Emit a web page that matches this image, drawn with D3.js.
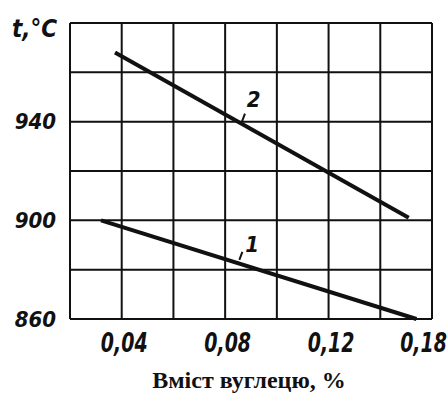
<!DOCTYPE html>
<html>
<head>
<meta charset="utf-8">
<script src="https://cdn.jsdelivr.net/npm/d3@7"></script>
<style>
  body { margin: 0; background: white; }
  svg { display: block; }
</style>
</head>
<body>
<div id="container"></div>
<script>
// grid and tick values
let carbonGrid = [0.02, 0.04, 0.06, 0.08, 0.10, 0.12, 0.14, 0.16];
let tempGrid = [860, 880, 900, 920, 940, 960, 980];
let carbonTicks = [0.04, 0.08, 0.12, 0.16];
let carbonTickLabels = ["0,04", "0,08", "0,12", "0,18"];
let tempTicks = [860, 900, 940];

// curves
let curve1Carbon = [0.032, 0.154];
let curve1Temp = [900, 860];
let curve2Carbon = [0.0374, 0.151];
let curve2Temp = [968, 901];

let w = 448;
let h = 398;

let ink = "#111";
let italicFont = "'DejaVu Sans Condensed', 'DejaVu Sans', sans-serif";

let viz = d3.select("#container")
  .append("svg")
    .attr("width", w)
    .attr("height", h)
    .style("background-color", "white")
;

let xScale = d3.scaleLinear().domain([0.02, 0.16]).range([70, 432]);
let yScale = d3.scaleLinear().domain([860, 980]).range([319, 23]);

// grid
viz.append("g").selectAll("line").data(carbonGrid).enter().append("line")
    .attr("x1", d => xScale(d))
    .attr("x2", d => xScale(d))
    .attr("y1", yScale(980))
    .attr("y2", yScale(860))
    .attr("stroke", ink)
    .attr("stroke-width", 2)
;
viz.append("g").selectAll("line").data(tempGrid).enter().append("line")
    .attr("x1", xScale(0.02))
    .attr("x2", xScale(0.16))
    .attr("y1", d => yScale(d))
    .attr("y2", d => yScale(d))
    .attr("stroke", ink)
    .attr("stroke-width", 2)
;

// axes
let xAxis = d3.axisBottom(xScale)
    .tickValues(carbonTicks)
    .tickSize(0)
    .tickPadding(0)
    .tickFormat((d, i) => carbonTickLabels[i]);

let gx = viz.append("g")
    .attr("transform", "translate(0,352)")
    .call(xAxis);
gx.select(".domain").remove();
let squeeze = 0.78;
gx.selectAll("text")
    .attr("font-family", italicFont)
    .attr("font-style", "italic")
    .attr("font-weight", "bold")
    .attr("font-size", 27)
    .attr("fill", ink)
    .attr("dy", 0)
    .attr("y", 0)
    .attr("x", (d, i) => (i === carbonTicks.length - 1 ? -9 : 2) / squeeze)
    .attr("transform", "scale(" + squeeze + ",1)");

let yAxis = d3.axisLeft(yScale)
    .tickValues(tempTicks)
    .tickSize(0)
    .tickPadding(14);

let gy = viz.append("g")
    .attr("transform", "translate(70,0)")
    .call(yAxis);
gy.select(".domain").remove();
gy.selectAll("text")
    .attr("font-family", italicFont)
    .attr("font-style", "italic")
    .attr("font-weight", "bold")
    .attr("font-size", 22)
    .attr("fill", ink);

// unit label
viz.append("text")
    .text("t,°C")
    .attr("x", 12)
    .attr("y", 37)
    .attr("font-family", italicFont)
    .attr("font-style", "italic")
    .attr("font-weight", "bold")
    .attr("font-size", 24)
    .attr("fill", ink)
;

// axis title
viz.append("text")
    .text("Вміст вуглецю, %")
    .attr("x", 249)
    .attr("y", 388)
    .attr("text-anchor", "middle")
    .attr("font-family", "'Liberation Serif', 'Times New Roman', serif")
    .attr("font-weight", "bold")
    .attr("font-size", 24)
    .attr("fill", ink)
;

// curves
let line = d3.line().x(d => xScale(d[0])).y(d => yScale(d[1]));

let curves = [
  { name: "1", pts: d3.zip(curve1Carbon, curve1Temp), lab: [0.0904, 887], tick: [0.0855, 884] },
  { name: "2", pts: d3.zip(curve2Carbon, curve2Temp), lab: [0.0910, 946], tick: [0.0865, 940] }
];

let groups = viz.selectAll(".curve").data(curves).enter()
  .append("g")
    .classed("curve", true)
;

groups.append("path")
    .attr("d", d => line(d.pts))
    .attr("fill", "none")
    .attr("stroke", ink)
    .attr("stroke-width", 4)
;

groups.append("line")
    .attr("x1", d => xScale(d.tick[0]))
    .attr("y1", d => yScale(d.tick[1]))
    .attr("x2", d => xScale(d.tick[0]) + 3)
    .attr("y2", d => yScale(d.tick[1]) - 8)
    .attr("stroke", ink)
    .attr("stroke-width", 2)
;

groups.append("text")
    .text(d => d.name)
    .attr("x", d => xScale(d.lab[0]))
    .attr("y", d => yScale(d.lab[1]))
    .attr("text-anchor", "middle")
    .attr("font-family", italicFont)
    .attr("font-style", "italic")
    .attr("font-weight", "bold")
    .attr("font-size", 22)
    .attr("fill", ink)
;
</script>
</body>
</html>
